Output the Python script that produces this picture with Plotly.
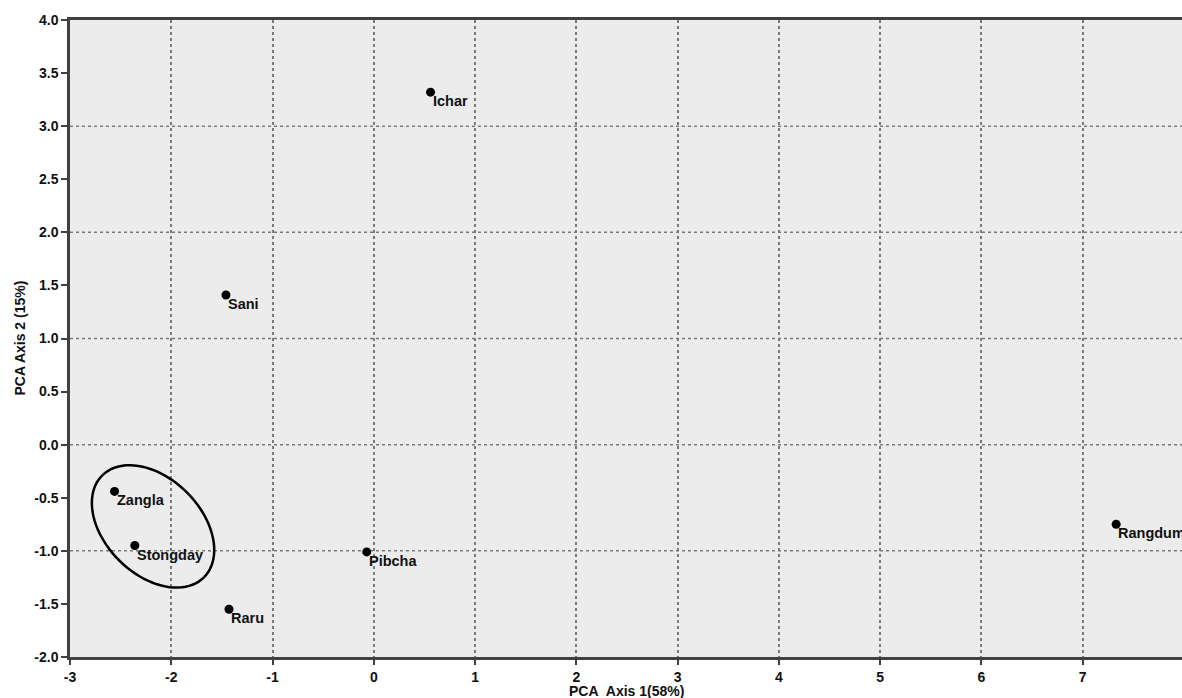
import numpy as np
import plotly.graph_objects as go

# ---- data ----
sites = ["Ichar", "Sani", "Zangla", "Stongday", "Pibcha", "Raru", "Rangdum"]
pc1 = [0.56, -1.46, -2.56, -2.36, -0.07, -1.43, 7.33]
pc2 = [3.32, 1.41, -0.44, -0.95, -1.01, -1.55, -0.75]

x_ticks = [-3, -2, -1, 0, 1, 2, 3, 4, 5, 6, 7]
y_ticks = [-2.0, -1.5, -1.0, -0.5, 0.0, 0.5, 1.0, 1.5, 2.0, 2.5, 3.0, 3.5, 4.0]
y_grid = [-1, 0, 1, 2, 3]

x_title = "PCA\u00a0 Axis 1(58%)"
y_title = "PCA Axis 2 (15%)"

# ellipse grouping Zangla & Stongday (centre in data units, axes in px, angle deg)
ell_cx, ell_cy = -2.18, -0.77
ell_a_px, ell_b_px, ell_angle = 72, 48, 45

X_RANGE = [-3, 7.98]
Y_RANGE = [-2, 4]
W, H = 1182, 698
ML, MR, MT, MB = 70, 0, 20, 41

FONT = "Arial, 'Liberation Sans', Helvetica, sans-serif"
AXC = "#404040"
TXT = "#111111"

fig = go.Figure()
fig.add_trace(go.Scatter(
    x=pc1, y=pc2, mode="markers",
    marker=dict(color="black", size=9),
    showlegend=False, cliponaxis=False,
))

# point labels, just to the lower right of each marker
for name, xv, yv in zip(sites, pc1, pc2):
    fig.add_annotation(x=xv, y=yv, xref="x", yref="y", text=name, showarrow=False,
                       xanchor="left", yanchor="top", xshift=0, yshift=1,
                       font=dict(family=FONT, size=14.5, color=TXT, weight="bold"))

# horizontal dotted gridlines at integer y
for gy in y_grid:
    fig.add_shape(type="line", xref="paper", yref="y", x0=0, x1=1, y0=gy, y1=gy,
                  line=dict(color="#7a7a7a", width=1.5, dash="dot"), layer="below")

# ellipse path (converted from pixel geometry to data units)
sx = (W - ML - MR) / (X_RANGE[1] - X_RANGE[0])
sy = (H - MT - MB) / (Y_RANGE[1] - Y_RANGE[0])
th = np.deg2rad(ell_angle)
t = np.linspace(0, 2 * np.pi, 90)
dxp = ell_a_px * np.cos(t) * np.cos(th) - ell_b_px * np.sin(t) * np.sin(th)
dyp = ell_a_px * np.cos(t) * np.sin(th) + ell_b_px * np.sin(t) * np.cos(th)
ex = ell_cx + dxp / sx
ey = ell_cy - dyp / sy
path = "M " + " L ".join(f"{a:.4f},{b:.4f}" for a, b in zip(ex, ey)) + " Z"
fig.add_shape(type="path", path=path, xref="x", yref="y",
              line=dict(color="black", width=2.5))

# axis titles
plot_w = W - ML - MR
plot_h = H - MT - MB
fig.add_annotation(text=x_title, xref="paper", yref="paper", x=0.5, y=-(33.5 / plot_h),
                   xanchor="center", yanchor="middle", showarrow=False,
                   font=dict(family=FONT, size=14, color=TXT, weight="bold"))
fig.add_annotation(text=y_title, xref="paper", yref="paper", x=-(51 / plot_w), y=0.5,
                   xanchor="center", yanchor="middle", showarrow=False, textangle=-90,
                   font=dict(family=FONT, size=14, color=TXT, weight="bold"))

tickfont = dict(family=FONT, size=14, color=TXT, weight="bold")
fig.update_layout(
    width=W, height=H,
    margin=dict(l=ML, r=MR, t=MT, b=MB, autoexpand=False),
    paper_bgcolor="white", plot_bgcolor="#ececec",
    xaxis=dict(
        range=X_RANGE, tickvals=x_ticks, ticktext=[str(v) for v in x_ticks],
        showgrid=True, gridcolor="#7a7a7a", gridwidth=1.5, griddash="dot",
        zeroline=False, showline=True, linecolor=AXC, linewidth=2.5, mirror=True,
        ticks="outside", ticklen=5, tickwidth=2, tickcolor=AXC,
        tickfont=tickfont,
    ),
    yaxis=dict(
        range=Y_RANGE, tickvals=y_ticks, ticktext=[f"{v:.1f}" for v in y_ticks],
        showgrid=False, zeroline=False, showline=True, linecolor=AXC, linewidth=2.5,
        ticks="outside", ticklen=6, tickwidth=2, tickcolor=AXC,
        tickfont=tickfont,
    ),
)

fig.write_html(
    "out.html",
    config={"displayModeBar": False},
    post_script="document.body.style.margin='0';document.body.style.overflow='hidden';",
)
